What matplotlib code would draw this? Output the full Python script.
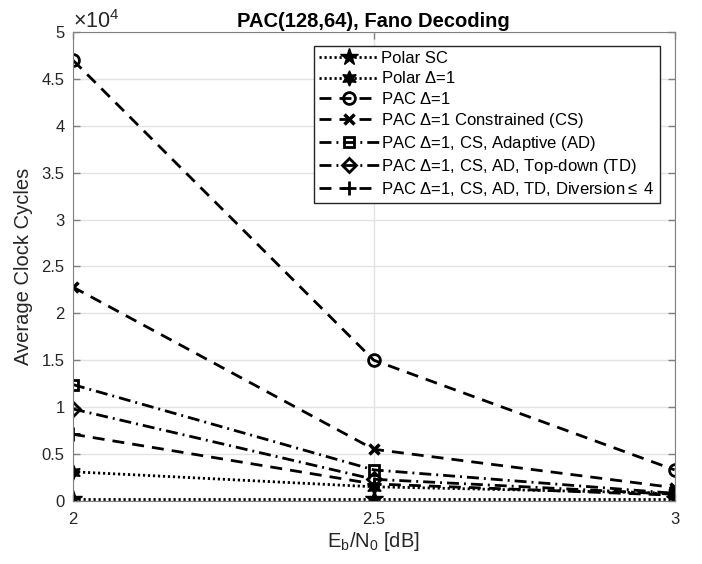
import numpy as np
import matplotlib
matplotlib.use("Agg")
import matplotlib.pyplot as plt
from matplotlib.ticker import ScalarFormatter

plt.rcParams['font.family'] = ['Liberation Sans', 'DejaVu Sans']
plt.rcParams['mathtext.fontset'] = 'custom'
plt.rcParams['mathtext.rm'] = 'Liberation Sans'
plt.rcParams['mathtext.it'] = 'Liberation Sans'

# Eb/N0 [dB]
ebn0 = [2.0, 2.5, 3.0]

# average clock cycles
polar_sc = [200, 200, 200]
polar_d1 = [3100, 1500, 800]
pac_d1 = [47000, 15000, 3300]
pac_cs = [22800, 5500, 1400]
pac_ad = [12400, 3300, 800]
pac_td = [9800, 2300, 700]
pac_div = [7100, 1800, 600]

labels = ['Polar SC', r'Polar $\Delta$=1', r'PAC $\Delta$=1',
          r'PAC $\Delta$=1 Constrained (CS)',
          r'PAC $\Delta$=1, CS, Adaptive (AD)',
          r'PAC $\Delta$=1, CS, AD, Top-down (TD)',
          r'PAC $\Delta$=1, CS, AD, TD, Diversion$\leq$ 4']


class SciFmt(ScalarFormatter):
    # matlab style: 0, 0.5, 1, ... with x10^4 on top
    def _set_format(self):
        self.format = '%g'


fig = plt.figure(figsize=(7.02, 5.64), dpi=100)
ax = fig.add_axes([0.104, 0.112, 0.857, 0.831])

lw = 2.0
dash = (0, (4.3, 2.9))
dashdot = (0, (4.3, 1.8, 0.7, 1.8))
dot = (0, (0.8, 1.0))
hexagram = (6, 1, 0)

ax.plot(ebn0, polar_sc, color='k', lw=lw, ls=dot, marker='*', ms=13, label=labels[0])
ax.plot(ebn0, polar_d1, color='k', lw=lw, ls=dot, marker=hexagram, ms=11, label=labels[1])
ax.plot(ebn0, pac_d1, color='k', lw=lw, ls=dash, marker='o', ms=8.5, mfc='none', mew=2, label=labels[2])
ax.plot(ebn0, pac_cs, color='k', lw=lw, ls=dash, marker='x', ms=6.5, mew=2.5, label=labels[3])
ax.plot(ebn0, pac_ad, color='k', lw=lw, ls=dashdot, marker='s', ms=7.5, mfc='none', mew=2, label=labels[4])
ax.plot(ebn0, pac_td, color='k', lw=lw, ls=dashdot, marker='D', ms=7.5, mfc='none', mew=2, label=labels[5])
ax.plot(ebn0, pac_div, color='k', lw=lw, ls=dash, marker='+', ms=9.5, mew=2, label=labels[6])

ax.set_xlim(2, 3)
ax.set_ylim(0, 50000)
ax.set_xticks([2, 2.5, 3])
ax.set_xticklabels(['2', '2.5', '3'])
ax.set_yticks(np.arange(0, 50001, 5000))
fmt = SciFmt(useMathText=True)
fmt.set_powerlimits((0, 0))
ax.yaxis.set_major_formatter(fmt)

ax.grid(True, color='#e3e3e3', lw=1)
ax.set_axisbelow(True)
for s in ax.spines.values():
    s.set_color('#808080')
ax.tick_params(direction='in', top=True, right=True, colors='#262626',
               labelsize=12, length=5, width=1)
ax.tick_params(axis='both', color='#808080')
ax.tick_params(axis='x', pad=8)
ax.tick_params(axis='y', pad=6)
ax.yaxis.get_offset_text().set_fontsize(15.5)
ax.yaxis.get_offset_text().set_color('#262626')

ax.set_xlabel(r'E$_\mathrm{b}$/N$_\mathrm{0}$ [dB]', fontsize=14.5, color='#262626', labelpad=2)
ax.set_ylabel('Average Clock Cycles', fontsize=14.5, color='#262626', labelpad=6)
ax.set_title('PAC(128,64), Fano Decoding', fontsize=14.5, fontweight='bold', pad=4)

leg = ax.legend(loc='upper right', bbox_to_anchor=(0.975, 0.97), fontsize=12,
                fancybox=False, edgecolor='#262626', framealpha=1,
                handlelength=3.6, handletextpad=0.1, borderaxespad=0,
                labelspacing=0.25, borderpad=0.3)
leg.get_frame().set_linewidth(1)

fig.savefig('out.png', dpi=100)
